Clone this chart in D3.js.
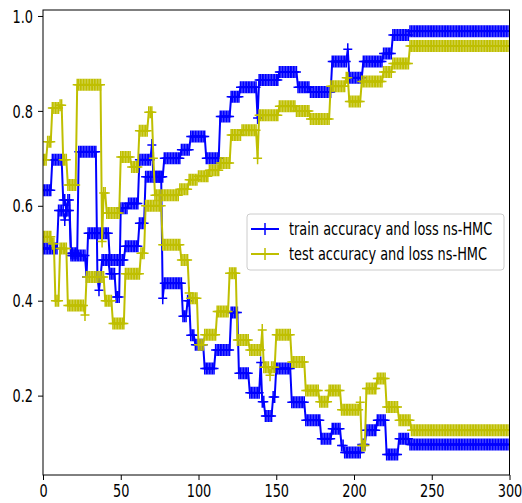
<!DOCTYPE html>
<html><head><meta charset="utf-8">
<script src="https://cdn.jsdelivr.net/npm/d3@7"></script>
<style>body{margin:0;background:#fff} svg{display:block}</style>
</head><body>
<svg id="chart" width="522" height="503"></svg>
<script>
const nEpochs = 300;
// [start epoch, value] — each value holds until the next start epoch
const trainAccSteps = [[0,0.633],[6,0.697],[13,0.612],[15,0.59],[16,0.612],[18,0.50],[23,0.714],[35,0.45],[36,0.422],[37,0.45],[38,0.486],[43,0.457],[47,0.408],[50,0.595],[55,0.605],[62,0.697],[70,0.728],[71,0.661],[78,0.70],[89,0.718],[95,0.746],[105,0.70],[114,0.788],[121,0.83],[127,0.85],[138,0.785],[139,0.865],[152,0.882],[164,0.85],[172,0.84],[186,0.904],[196,0.93],[197,0.87],[206,0.904],[219,0.921],[225,0.96],[236,0.968]];
const trainLossSteps = [[0,0.51],[10,0.59],[14,0.57],[15,0.59],[18,0.495],[28,0.45],[29,0.542],[43,0.486],[53,0.515],[62,0.563],[66,0.661],[77,0.405],[78,0.437],[90,0.367],[93,0.40],[95,0.327],[98,0.307],[104,0.257],[111,0.296],[121,0.375],[126,0.247],[133,0.206],[140,0.27],[141,0.187],[143,0.157],[148,0.197],[150,0.257],[160,0.186],[169,0.148],[179,0.109],[186,0.13],[192,0.095],[194,0.08],[205,0.097],[208,0.127],[215,0.148],[221,0.076],[229,0.109],[236,0.097]];
const testAccSteps = [[0,0.697],[3,0.735],[6,0.806],[11,0.812],[13,0.697],[16,0.644],[22,0.855],[38,0.525],[39,0.627],[41,0.585],[50,0.703],[57,0.682],[62,0.758],[68,0.797],[71,0.70],[72,0.622],[88,0.635],[94,0.655],[100,0.662],[107,0.675],[114,0.69],[121,0.749],[128,0.759],[138,0.70],[139,0.791],[152,0.81],[163,0.80],[172,0.783],[185,0.852],[195,0.87],[197,0.82],[205,0.862],[219,0.882],[225,0.90],[236,0.937]];
const testLossSteps = [[0,0.535],[6,0.52],[8,0.40],[11,0.51],[16,0.39],[27,0.37],[28,0.45],[40,0.40],[45,0.352],[53,0.457],[63,0.50],[66,0.60],[77,0.518],[89,0.486],[94,0.416],[95,0.405],[100,0.307],[104,0.328],[112,0.377],[120,0.458],[125,0.317],[133,0.296],[141,0.338],[142,0.26],[146,0.243],[147,0.26],[150,0.328],[160,0.271],[169,0.211],[178,0.187],[184,0.211],[192,0.17],[204,0.186],[205,0.095],[208,0.215],[215,0.236],[221,0.176],[229,0.148],[237,0.127]];
const xTicks = [0,50,100,150,200,250,300];
const yTicks = [0.2,0.4,0.6,0.8,1.0];
const legendLabels = ["train accuracy and loss ns-HMC","test accuracy and loss ns-HMC"];
const colors = {train:"#0000ff", test:"#bfbf00"};

function expand(steps){
  const out=[]; let j=0;
  for(let e=0;e<nEpochs;e++){
    while(j+1<steps.length && steps[j+1][0]<=e) j++;
    out.push({e:e, v:steps[j][1]});
  }
  return out;
}

const svg = d3.select("#chart");
const L=43, R=509.5, T=10, B=475;
const x = d3.scaleLinear().domain([0,300]).range([L,R]);
const y = d3.scaleLinear().domain([0.0327,1.0126]).range([B,T]);
const SX = 0.76, FS = 17;

svg.append("defs").append("clipPath").attr("id","clip")
  .append("rect").attr("x",L).attr("y",T).attr("width",R-L).attr("height",B-T);

const plot = svg.append("g").attr("clip-path","url(#clip)");
const line = d3.line().x(d=>x(d.e)).y(d=>y(d.v));
const plus = "M-4.5,0H4.5M0,-6V6";

const series = [
  {data:expand(trainAccSteps), c:colors.train},
  {data:expand(trainLossSteps), c:colors.train},
  {data:expand(testAccSteps), c:colors.test},
  {data:expand(testLossSteps), c:colors.test}
];
series.forEach(s=>{
  const g = plot.append("g");
  g.append("path").datum(s.data).attr("d",line).attr("fill","none")
    .attr("stroke",s.c).attr("stroke-width",2).attr("stroke-linejoin","round");
  g.selectAll("path.m").data(s.data).join("path").attr("class","m")
    .attr("d",plus).attr("transform",d=>`translate(${x(d.e)},${y(d.v)})`)
    .attr("stroke",s.c).attr("stroke-width",1.5).attr("fill","none");
});

// axes
const xAxis = svg.append("g").attr("transform",`translate(0,${B})`)
  .call(d3.axisBottom(x).tickValues(xTicks).tickSize(5).tickPadding(5).tickFormat(d3.format("d")));
const yAxis = svg.append("g").attr("transform",`translate(${L},0)`)
  .call(d3.axisLeft(y).tickValues(yTicks).tickSize(5).tickPadding(5).tickFormat(d3.format(".1f")));
[xAxis,yAxis].forEach(a=>{
  a.select(".domain").remove();
  a.selectAll(".tick line").attr("stroke","#000").attr("stroke-width",1);
  a.selectAll(".tick text").attr("font-family","DejaVu Sans").attr("font-size",FS).attr("fill","#000");
});
xAxis.selectAll(".tick text").attr("transform",`scale(${SX},1)`);
yAxis.selectAll(".tick text").attr("x",-10/SX).attr("dy","0.36em").attr("transform",`scale(${SX},1)`);

svg.append("rect").attr("x",L).attr("y",T).attr("width",R-L).attr("height",B-T)
  .attr("fill","none").attr("stroke","#000").attr("stroke-width",1);

// legend
const lg = svg.append("g");
lg.append("rect").attr("x",247).attr("y",214).attr("width",257).attr("height",56).attr("rx",3)
  .attr("fill","#fff").attr("fill-opacity",0.8).attr("stroke","#cccccc").attr("stroke-width",1);
[colors.train, colors.test].forEach((c,i)=>{
  const yy = 229 + i*25;
  lg.append("line").attr("x1",251).attr("x2",279).attr("y1",yy).attr("y2",yy).attr("stroke",c).attr("stroke-width",2);
  lg.append("path").attr("d",plus).attr("transform",`translate(265,${yy})`).attr("stroke",c).attr("stroke-width",1.5).attr("fill","none");
  lg.append("text").attr("transform",`translate(289,${yy}) scale(${SX},1)`).attr("dy","0.36em")
    .attr("font-family","DejaVu Sans").attr("font-size",FS).attr("fill","#000").text(legendLabels[i]);
});
</script>
</body></html>
